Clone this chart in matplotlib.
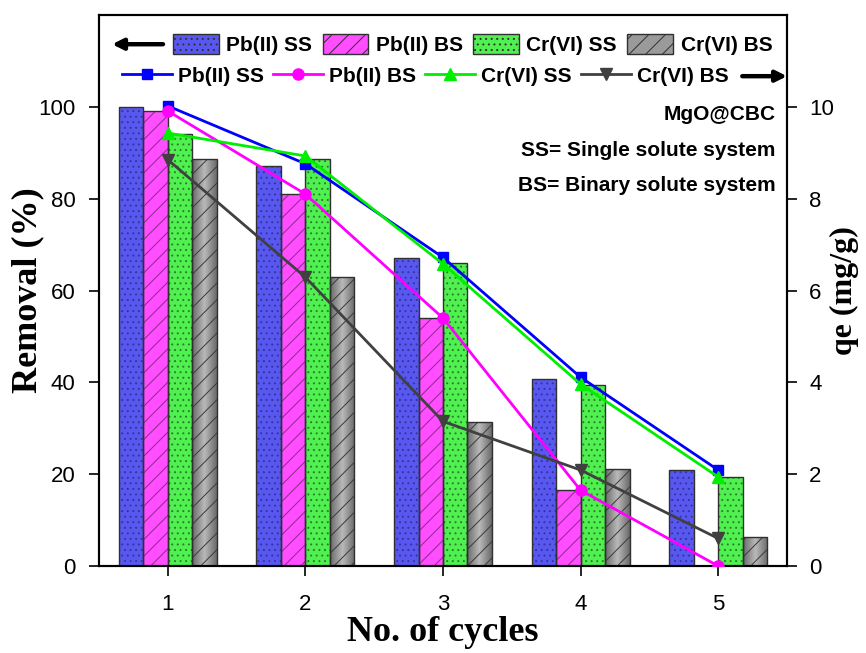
import numpy as np
import matplotlib
matplotlib.use("Agg")
import matplotlib.pyplot as plt
from matplotlib.lines import Line2D
from matplotlib.patches import Patch

# ---- data -------------------------------------------------------------
cycles = [1, 2, 3, 4, 5]
cycle_labels = ["1", "2", "3", "4", "5"]

# Removal (%) per cycle (bars, left axis)
removal_pb_ss = [100.0, 87.2, 67.0, 40.8, 21.0]
removal_pb_bs = [99.1, 81.0, 54.0, 16.5, 0.0]
removal_cr_ss = [94.0, 88.7, 65.9, 39.5, 19.4]
removal_cr_bs = [88.6, 62.9, 31.4, 21.1, 6.3]

# qe (mg/g) per cycle (lines, right axis)
qe_pb_ss = [10.02, 8.76, 6.72, 4.11, 2.09]
qe_pb_bs = [9.91, 8.10, 5.40, 1.65, 0.0]
qe_cr_ss = [9.43, 8.93, 6.58, 3.96, 1.94]
qe_cr_bs = [8.85, 6.29, 3.15, 2.09, 0.60]

series_names = ["Pb(II) SS", "Pb(II) BS", "Cr(VI) SS", "Cr(VI) BS"]

# ---- style ------------------------------------------------------------
plt.rcParams["font.family"] = ["Liberation Sans", "DejaVu Sans"]
plt.rcParams["hatch.linewidth"] = 0.7
serif = ["Liberation Serif", "DejaVu Serif"]

bar_colors = ["#5858F0", "#FF4DFF", "#50F050", "#9A9A9A"]
bar_hatch = ["...", "//", "...", "//"]
hatch_colors = ["#3434a0", "#8a2a8a", "#2a802a", "#3a3a3a"]
line_colors = ["#0000FF", "#FF00FF", "#00EE00", "#404040"]
line_markers = ["s", "o", "^", "v"]

fig = plt.figure(figsize=(8.66, 6.53), dpi=100)
ax = fig.add_axes([0.1143, 0.1332, 0.7945, 0.8438])
ax2 = ax.twinx()

x = np.array(cycles, dtype=float)
w = 0.178
offsets = [-1.5 * w, -0.5 * w, 0.5 * w, 1.5 * w]
removals = [removal_pb_ss, removal_pb_bs, removal_cr_ss, removal_cr_bs]

# shaded gradient used for the grey (cylinder-looking) bars
grad = np.abs(np.linspace(-1, 1, 64))
grad = np.vstack([grad, grad])
gray_cmap = matplotlib.colors.LinearSegmentedColormap.from_list(
    "cyl", ["#b8b8b8", "#6a6a6a"])

for i, vals in enumerate(removals):
    xs = x + offsets[i]
    base = ax.bar(xs, vals, width=w, color=bar_colors[i],
                  edgecolor="none", linewidth=0, zorder=2)
    if i == 3:
        for rect in base:
            x0, y0 = rect.get_x(), rect.get_y()
            im = ax.imshow(grad, cmap=gray_cmap, aspect="auto",
                           extent=[x0, x0 + rect.get_width(), y0, y0 + rect.get_height()],
                           zorder=2.2, interpolation="bilinear")
            im.set_clip_path(rect)
    ax.bar(xs, vals, width=w, color="none", edgecolor=hatch_colors[i],
           hatch=bar_hatch[i], linewidth=0, zorder=2.4)
    ax.bar(xs, vals, width=w, color="none", edgecolor="#303030",
           linewidth=1.0, zorder=2.6)

qes = [qe_pb_ss, qe_pb_bs, qe_cr_ss, qe_cr_bs]
for i, vals in enumerate(qes):
    ax2.plot(x, vals, color=line_colors[i], marker=line_markers[i],
             markersize=8 if line_markers[i] != "s" else 7, linewidth=2.0,
             zorder=5)

# ---- axes -------------------------------------------------------------
ax.set_xlim(0.5, 5.5)
ax.set_ylim(0, 120)
ax2.set_ylim(0, 12)
ax.set_xticks(cycles)
ax.set_xticklabels(cycle_labels)
ax.set_yticks([0, 20, 40, 60, 80, 100])
ax2.set_yticks([0, 2, 4, 6, 8, 10])
for a in (ax, ax2):
    a.tick_params(direction="out", length=7, width=1.2, labelsize=16, pad=8)
    for s in a.spines.values():
        s.set_linewidth(1.5)
ax.tick_params(axis="x", pad=13)
ax.tick_params(axis="y", pad=10)
ax2.tick_params(axis="y", pad=9)
ax.set_zorder(ax2.get_zorder() - 1)
ax2.patch.set_visible(False)

ax.set_xlabel("No. of cycles", fontsize=26, fontweight="bold", family=serif,
              va="center")
ax.xaxis.set_label_coords(0.5, -0.12)
ax.set_ylabel("Removal (%)", fontsize=26, fontweight="bold", family=serif,
              va="center")
ax.yaxis.set_label_coords(-0.103, 0.5)
ax2.set_ylabel("qe (mg/g)", fontsize=23, fontweight="bold", family=serif,
               va="center", rotation=90)
ax2.yaxis.set_label_coords(1.084, 0.5)

# ---- legends ------------------------------------------------------------
bar_handles = [Patch(facecolor=bar_colors[i], edgecolor="#303030",
                     hatch=bar_hatch[i], linewidth=1.0) for i in range(4)]
leg1 = ax2.legend(bar_handles, series_names, ncol=4, loc="center left",
                  bbox_to_anchor=(0.1076, 0.947), frameon=False,
                  prop={"size": 15, "weight": "bold"}, borderpad=0,
                  borderaxespad=0, handlelength=2.2, handleheight=1.15,
                  handletextpad=0.35, columnspacing=0.5)
ax2.add_artist(leg1)

line_handles = [Line2D([0], [0], color=line_colors[i], marker=line_markers[i],
                       markersize=8 if line_markers[i] != "s" else 7,
                       linewidth=2.0) for i in range(4)]
leg2 = ax2.legend(line_handles, series_names, ncol=4, loc="center left",
                  bbox_to_anchor=(0.033, 0.889), frameon=False,
                  prop={"size": 15, "weight": "bold"}, borderpad=0,
                  borderaxespad=0, handlelength=2.4,
                  handletextpad=0.28, columnspacing=0.45)

# direction arrows: bars read on the left axis, lines on the right axis
arrow_kw = dict(arrowstyle="-|>", color="black", lw=3.2, mutation_scale=16,
                shrinkA=0, shrinkB=0)
ax2.annotate("", xy=(0.019, 0.947), xytext=(0.093, 0.947),
             xycoords="axes fraction", arrowprops=arrow_kw)
ax2.annotate("", xy=(1.0, 0.889), xytext=(0.935, 0.889),
             xycoords="axes fraction", arrowprops=arrow_kw)

# ---- annotations ---------------------------------------------------------
for txt, yy in [("MgO@CBC", 0.82), ("SS= Single solute system", 0.754),
                ("BS= Binary solute system", 0.69)]:
    ax2.text(0.983, yy, txt, transform=ax2.transAxes, ha="right", va="center",
             fontsize=15, fontweight="bold")

fig.savefig("out.png", dpi=100)
